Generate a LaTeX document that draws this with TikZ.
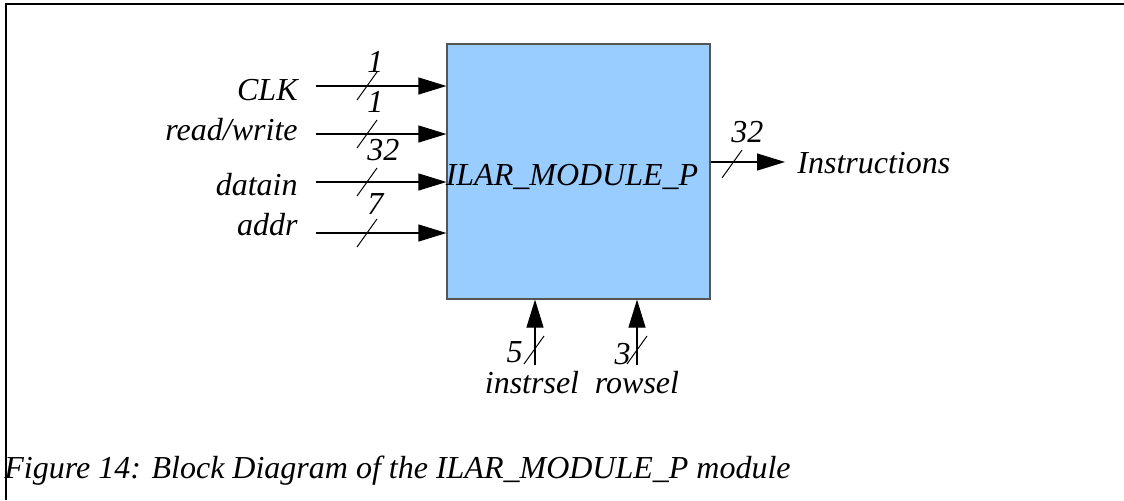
\documentclass[tikz,border=0pt]{standalone}
\usepackage{fontspec}
\setmainfont{Liberation Serif}
\usetikzlibrary{arrows.meta}
\definecolor{boxblue}{HTML}{99CCFF}
\definecolor{boxline}{HTML}{555555}

\begin{document}
\begin{tikzpicture}[x=0.5pt,y=-0.5pt,
    every node/.style={font=\fontsize{16}{19}\selectfont\itshape, inner sep=0pt},
    sig/.style={line width=0.6pt, -{Triangle[length=14pt,width=8.5pt]}},
    buswidth/.pic={\draw[line width=0.5pt] (-10,14) -- (10,-14);}]
    \useasboundingbox (0,0) rectangle (1124,500);

    % frame
    \draw[line width=1pt] (6,500) -- (6,4) -- (1124,4);

    % module block
    \node[draw=boxline, fill=boxblue, line width=0.6pt,
          minimum width=131.5pt, minimum height=127.5pt] (mod) at (578.5,171.5) {};
    \node[anchor=base] (modname) at (572,185) {ILAR\_MODULE\_P};

    % inputs on the left
    \foreach \name/\txt/\y/\base/\w/\wy in {clk/CLK/86/100/1/72,
                                            rw/{read/write}/134/140/1/112,
                                            din/datain/182/195/32/160,
                                            addr/addr/233/235/7/214} {
        \node[anchor=base east] (lbl-\name) at (298,\base) {\txt};
        \coordinate (in-\name) at (316,\y);
        \draw[sig] (in-\name) -- (in-\name -| mod.west);
        \pic at (367,\y) {buswidth};
        \node[anchor=base west] (w-\name) at (367,\wy) {\w};
    }

    % output on the right
    \coordinate (outend) at (785,162);
    \draw[sig] (outend -| mod.east) -- (outend);
    \pic at (732,164) {buswidth};
    \node[anchor=base west] (w-out) at (731,142) {32};
    \node[anchor=base west] (lbl-out) at (797,173) {Instructions};

    % select inputs at the bottom
    \coordinate (isel) at (535,365);
    \coordinate (rsel) at (637,365);
    \draw[sig] (isel) -- (isel |- mod.south);
    \draw[sig] (rsel) -- (rsel |- mod.south);
    \pic at (534,350) {buswidth};
    \pic at (637,350) {buswidth};
    \node[anchor=base east] (w-isel) at (523,362) {5};
    \node[anchor=base east] (w-rsel) at (631,364) {3};
    \node[anchor=base] (lbl-isel) at (532,393) {instrsel};
    \node[anchor=base] (lbl-rsel) at (637,393) {rowsel};

    % caption
    \node[anchor=base west] (caption) at (4,478) {Figure 14: Block Diagram of the ILAR\_MODULE\_P module};
\end{tikzpicture}
\end{document}
